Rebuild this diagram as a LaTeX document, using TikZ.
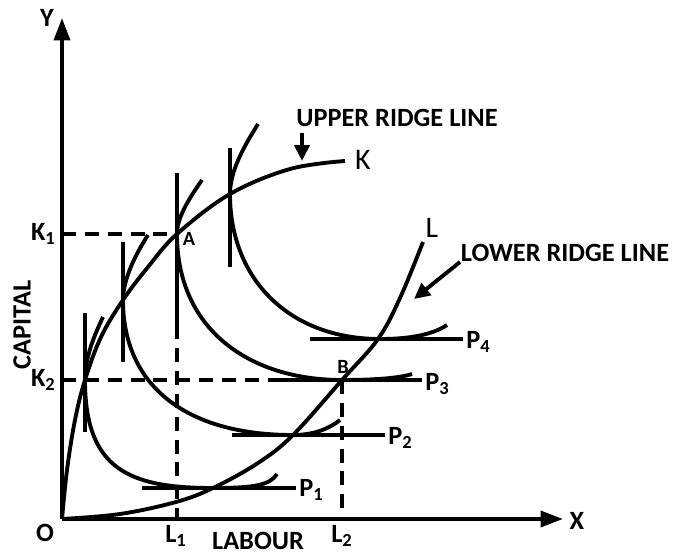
\documentclass[tikz,border=0pt]{standalone}
\usepackage{fontspec}
\setmainfont{Carlito}
\usetikzlibrary{arrows.meta}

\begin{document}
\begin{tikzpicture}[
	x=0.02cm, y=-0.02cm,
	axis/.style={line width=2.1pt, -{Triangle[length=4.5mm, width=3.2mm]}},
	curve/.style={line width=2.2pt},
	tangent/.style={line width=2.2pt},
	guide/.style={line width=2.2pt, dash pattern=on 8pt off 5pt},
	pointer/.style={line width=2.2pt, -{Triangle[length=3.2mm, width=3mm]}},
	lbl/.style={font=\fontsize{15}{18}\selectfont\bfseries, inner sep=0pt},
	small/.style={font=\fontsize{11.5}{13}\selectfont\bfseries, inner sep=0pt},
	ridge/.style={font=\fontsize{17}{20}\selectfont, inner sep=0pt}
]
\useasboundingbox (0,0) rectangle (683,554);

\coordinate (O) at (62,519);
\coordinate (ytop) at (62,18);
\coordinate (xend) at (563,519);
\coordinate (A) at (177,234);
\coordinate (B) at (342,380);
\coordinate (K1) at (62,234);
\coordinate (K2) at (62,380);
\coordinate (L1) at (177,519);
\coordinate (L2) at (342,519);

\draw[axis] (O) -- (ytop);
\draw[axis] (O) -- (xend);

\draw[guide] (K1) -- (A);
\draw[guide] (A) -- (L1);
\draw[guide] (K2) -- (B);
\draw[guide] (B) -- (L2);

\draw[curve] plot[smooth, tension=0.6] coordinates {(62,519) (67,470) (75,420) (85,380) (101,337) (123,300) (148,267) (177,234) (230,194) (290,169) (345,161)};
\draw[curve] plot[smooth, tension=0.6] coordinates {(62,519) (120,514) (176,502) (213,488) (258,463) (293,435) (342,380) (378,339) (400,298) (423,242)};

\draw[curve] (103,317) .. controls (92,340) and (85,360) .. (85,380) .. controls (85,470) and (130,488) .. (213,488) .. controls (255,488) and (270,485) .. (277,474);
\draw[curve] (148,235) .. controls (135,255) and (123,280) .. (123,300) .. controls (123,385) and (185,435) .. (293,435) .. controls (315,435) and (330,428) .. (340,420);
\draw[curve] (202,180) .. controls (188,200) and (177,218) .. (177,234) .. controls (177,330) and (250,380) .. (342,380) .. controls (375,380) and (400,378) .. (412,374);
\draw[curve] (258,124) .. controls (245,145) and (230,170) .. (230,194) .. controls (230,280) and (290,339) .. (380,339) .. controls (415,339) and (435,333) .. (447,325);

\draw[tangent] (85,313) -- (85,432);
\draw[tangent] (123,242) -- (123,362);
\draw[tangent] (177,173) -- (177,327);
\draw[tangent] (230,148) -- (230,267);
\draw[tangent] (142,488) -- (296,488);
\draw[tangent] (232,435) -- (385,435);
\draw[tangent] (282,380) -- (422,380);
\draw[tangent] (310,339) -- (463,339);

\node[lbl] (ylab) at (47,18) {Y};
\node[lbl] (xlab) at (577,521) {X};
\node[lbl] (olab) at (45,533) {O};
\node[lbl, anchor=east] (k1lab) at (56,234) {K\textsubscript{1}};
\node[lbl, anchor=east] (k2lab) at (56,380) {K\textsubscript{2}};
\node[lbl] (l1lab) at (176,536) {L\textsubscript{1}};
\node[lbl] (l2lab) at (342,536) {L\textsubscript{2}};
\node[lbl] (labour) at (258,541) {LABOUR};
\node[lbl, rotate=90] (capital) at (22,325) {CAPITAL};
\node[small] (alab) at (189,239) {A};
\node[small] (blab) at (343,367) {B};
\node[ridge] (klab) at (363,160) {K};
\node[ridge] (llab) at (432,228) {L};
\node[lbl, anchor=west] (p1) at (299,490) {P\textsubscript{1}};
\node[lbl, anchor=west] (p2) at (388,438) {P\textsubscript{2}};
\node[lbl, anchor=west] (p3) at (425,384) {P\textsubscript{3}};
\node[lbl, anchor=west] (p4) at (466,342) {P\textsubscript{4}};
\node[lbl] (upper) at (397,118) {UPPER RIDGE LINE};
\node[lbl] (lower) at (565,253) {LOWER RIDGE LINE};

\coordinate (upstart) at (302,133);
\coordinate (uptip) at (302,161);
\coordinate (lowstart) at (460,262);
\coordinate (lowtip) at (414,299);
\draw[pointer] (upstart) -- (uptip);
\draw[pointer] (lowstart) -- (lowtip);
\end{tikzpicture}
\end{document}
